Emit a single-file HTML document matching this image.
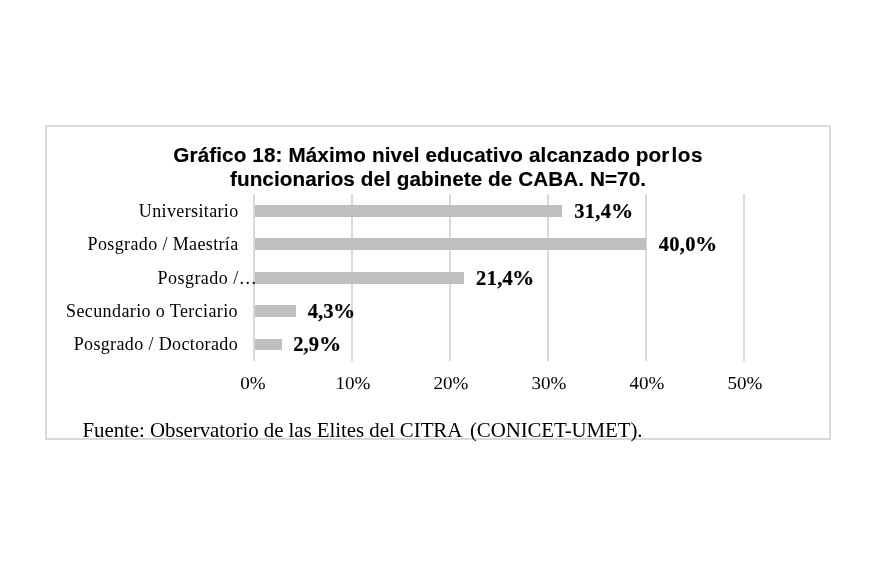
<!DOCTYPE html>
<html lang="es">
<head>
<meta charset="utf-8">
<title>Gráfico 18</title>
<style>
html,body{margin:0;padding:0;background:#fff;}
body{width:876px;height:564px;position:relative;overflow:hidden;font-family:"Liberation Serif",serif;color:#000;}
.box{position:absolute;left:45px;top:125px;width:782px;height:311px;border:2px solid #d9d9d9;border-radius:1.5px 1.5px 0 0;}
.grid{position:absolute;top:194px;height:167px;width:2px;background:#d9d9d9;}
.bar{position:absolute;left:255px;height:12px;background:#bfbfbf;}
.title{position:absolute;left:46px;width:784px;text-align:center;font-family:"Liberation Sans",sans-serif;font-weight:bold;font-size:20.7px;line-height:24px;white-space:nowrap;letter-spacing:0.07px;-webkit-text-stroke:0.15px #000;}
.cat{position:absolute;right:637.4px;font-size:18px;letter-spacing:0.37px;line-height:22px;margin-top:0px;white-space:nowrap;text-align:right;}
.val{position:absolute;font-weight:bold;font-size:20.5px;line-height:22px;white-space:nowrap;letter-spacing:0.3px;-webkit-text-stroke:0.2px #000;}
.val i{font-style:normal;display:inline-block;transform:scaleX(1.085);transform-origin:0 50%;margin-left:-0.7px;}
.tick{position:absolute;width:80px;margin-left:-40px;text-align:center;font-size:18.2px;line-height:22px;top:372px;transform:scaleX(1.045) rotate(0.1deg);transform-origin:50% 17px;}
.src{position:absolute;top:418px;font-size:20.9px;line-height:24px;white-space:nowrap;}
</style>
</head>
<body>
<div class="box"></div>
<div class="title" style="top:143px;left:46.2px"><span style="letter-spacing:0.11px">Gráfico 18: Máximo nivel educativo alcanzado por</span><span style="margin-left:-4.4px;letter-spacing:0.6px"> los</span></div>
<div class="title" style="top:167px">funcionarios del gabinete de CABA. N=70.</div>

<div class="grid" style="left:253px"></div>
<div class="grid" style="left:351px"></div>
<div class="grid" style="left:449px"></div>
<div class="grid" style="left:547px"></div>
<div class="grid" style="left:645px"></div>
<div class="grid" style="left:743px"></div>

<div class="bar" style="top:205px;width:307px"></div>
<div class="bar" style="top:238px;width:391px"></div>
<div class="bar" style="top:272px;width:209px"></div>
<div class="bar" style="top:305px;width:41px"></div>
<div class="bar" style="top:339px;width:27px;height:11px"></div>

<div class="cat" style="top:200px">Universitario</div>
<div class="cat" style="top:233px">Posgrado / Maestría</div>
<div class="cat" style="top:267px;right:618.9px;letter-spacing:0.46px">Posgrado /…</div>
<div class="cat" style="top:300px;right:638px;letter-spacing:0.39px">Secundario o Terciario</div>
<div class="cat" style="top:333px;right:638px">Posgrado / Doctorado</div>

<div class="val" style="left:574.2px;top:200px">31,4<i>%</i></div>
<div class="val" style="left:658.7px;top:233px">40,0<i>%</i></div>
<div class="val" style="left:476.1px;top:267px">21,4<i>%</i></div>
<div class="val" style="left:307.7px;top:300px;letter-spacing:0.1px">4,3<i>%</i></div>
<div class="val" style="left:293.2px;top:333px;letter-spacing:0.15px">2,9<i>%</i></div>

<div class="tick" style="left:253.3px">0%</div>
<div class="tick" style="left:353.1px">10%</div>
<div class="tick" style="left:451.1px">20%</div>
<div class="tick" style="left:549.1px">30%</div>
<div class="tick" style="left:647.1px">40%</div>
<div class="tick" style="left:745.1px">50%</div>

<div class="src" style="left:82.5px;letter-spacing:-0.045px">Fuente: Observatorio de las Elites del CITRA</div>
<div class="src" style="left:470px;letter-spacing:-0.1px">(CONICET-UMET).</div>
</body>
</html>
